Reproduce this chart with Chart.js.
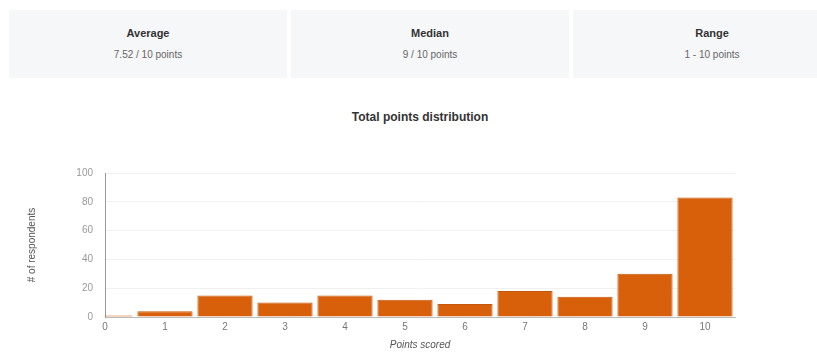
<!DOCTYPE html>
<html>
<head>
<meta charset="utf-8">
<script src="https://cdn.jsdelivr.net/npm/chart.js@4"></script>
<style>
  body { margin: 0; width: 817px; height: 353px; overflow: hidden; background: #fff; font-family: 'Liberation Sans', Arial, sans-serif; position: relative; }
  .card { position: absolute; top: 10px; height: 68px; width: 278px; background: #f6f7f9; text-align: center; }
  .card .lbl { margin-top: 17px; font-size: 11px; font-weight: bold; color: #333; }
  .card .val { margin-top: 10px; font-size: 10px; color: #666; }
  #title { position: absolute; top: 110px; left: 220px; width: 400px; text-align: center; font-size: 12px; font-weight: bold; color: #333; }
  #wrap { position: absolute; left: 0; top: 155px; width: 817px; height: 196px; }
</style>
</head>
<body>
<div class="card" style="left:9px"><div class="lbl">Average</div><div class="val">7.52 / 10 points</div></div>
<div class="card" style="left:291px"><div class="lbl">Median</div><div class="val">9 / 10 points</div></div>
<div class="card" style="left:573px"><div class="lbl">Range</div><div class="val">1 - 10 points</div></div>
<div id="title">Total points distribution</div>
<div id="wrap"><canvas id="pointsChart"></canvas></div>
<script>
// Data
const points = [0, 1, 2, 3, 4, 5, 6, 7, 8, 9, 10];
const respondents = [1, 4, 15, 10, 15, 12, 9, 18, 14, 30, 83];
const yTicks = [0, 20, 40, 60, 80, 100];

const ctx = document.getElementById('pointsChart').getContext('2d');
new Chart(ctx, {
    type: 'bar',
    data: {
        datasets: [{
            data: points.map((p, i) => ({ x: p, y: respondents[i] })),
            backgroundColor: '#d8600a',
            borderColor: '#c5580c',
            borderWidth: 1,
            barPercentage: 0.92,
            categoryPercentage: 1
        }]
    },
    options: {
        responsive: true,
        maintainAspectRatio: false,
        animation: false,
        layout: { padding: { left: 26, right: 82, top: 7, bottom: 0 } },
        plugins: { legend: { display: false }, tooltip: { enabled: false } },
        scales: {
            x: {
                type: 'linear',
                offset: false,
                min: 0,
                max: 10.5,
                afterBuildTicks: scale => {
                    scale.ticks = points.map(v => ({ value: v }));
                },
                ticks: { stepSize: 1, color: '#777', font: { size: 10 }, padding: 4, maxRotation: 0 },
                grid: { display: false, drawTicks: false },
                border: { color: '#bbb' },
                title: { display: true, text: 'Points scored', color: '#555', font: { size: 10, style: 'italic' }, padding: { top: 2, bottom: 0 } }
            },
            y: {
                min: 0,
                max: 100,
                afterBuildTicks: scale => {
                    scale.ticks = yTicks.map(v => ({ value: v }));
                },
                afterFit: scale => { scale.width = 79; },
                ticks: { color: '#999', font: { size: 10 }, padding: 12 },
                grid: { color: '#f0f0f0', drawTicks: false },
                border: { color: '#999' },
                title: { display: true, text: '# of respondents', color: '#555', font: { size: 10 }, padding: 0 }
            }
        }
    }
});
</script>
</body>
</html>
